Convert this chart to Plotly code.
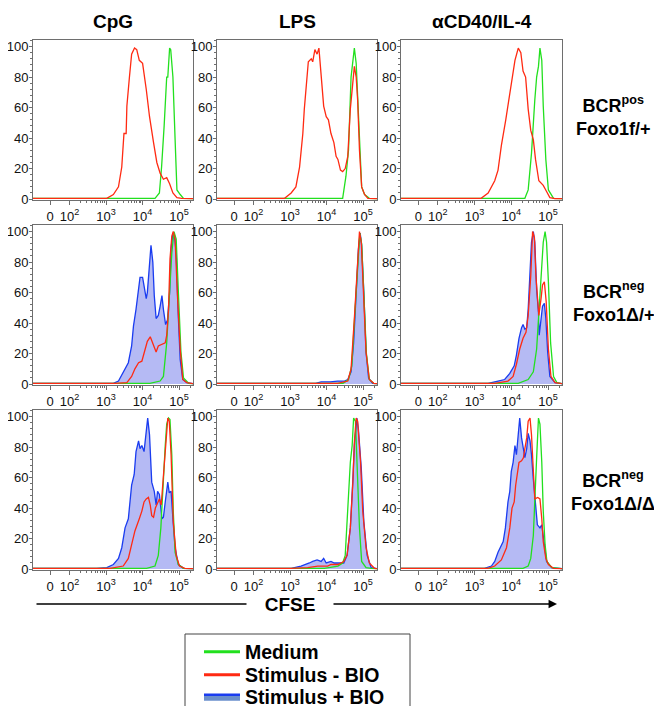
import plotly.graph_objects as go

# ---------------- DATA (x = log10 CFSE, y = % of max) ----------------
COLUMNS = ["CpG", "LPS", "αCD40/IL-4"]
ROWS = ["<b>BCR<sup>pos</sup></b><br><b>Foxo1f/+</b>",
        "<b>BCR<sup>neg</sup></b><br><b>Foxo1Δ/+</b>",
        "<b>BCR<sup>neg</sup></b><br><b>Foxo1Δ/Δ</b>"]
SERIES = ["Medium", "Stimulus - BIO", "Stimulus + BIO"]
X_TICK_LOG = [1.47, 2, 3, 4, 5]
X_TICK_TEXT = ["0", "10<sup>2</sup>", "10<sup>3</sup>", "10<sup>4</sup>", "10<sup>5</sup>"]
Y_TICKS = [0, 20, 40, 60, 80, 100]

# Row 1: BCRpos Foxo1f/+
CPG_POS_MED = [(1.0,0.5),(4.34,0.5),(4.46,4),(4.52,21),(4.59,48),(4.66,80),(4.69,80),(4.74,99),(4.77,98),(4.83,80),(4.89,39),(4.94,6),(5.03,3),(5.12,0.5),(5.38,0.3)]
CPG_POS_STIM = [(1.0,0.5),(3.02,0.5),(3.2,3),(3.34,8),(3.43,21),(3.49,43),(3.55,43),(3.57,61),(3.64,80),(3.70,95),(3.78,99),(3.84,98),(3.91,91),(4.0,89),(4.10,72),(4.19,54),(4.30,37),(4.39,24),(4.48,17),(4.57,13),(4.66,14),(4.74,10),(4.83,4),(4.94,1),(5.07,0.5),(5.38,0.3)]
LPS_POS_MED = [(1.0,0.5),(4.44,0.5),(4.53,15),(4.60,32),(4.67,80),(4.73,91),(4.76,99),(4.81,89),(4.85,65),(4.90,39),(4.96,8),(5.04,3),(5.17,0.5),(5.38,0.3)]
LPS_POS_STIM = [(1.0,0.5),(2.85,0.5),(3.03,4),(3.16,8),(3.26,21),(3.35,43),(3.39,59),(3.44,74),(3.50,90),(3.58,92),(3.62,90),(3.68,98),(3.74,95),(3.79,99),(3.85,80),(3.92,61),(3.99,54),(4.05,52),(4.12,43),(4.20,37),(4.26,28),(4.31,26),(4.38,19),(4.44,18),(4.51,20),(4.58,28),(4.65,59),(4.72,80),(4.76,87),(4.81,80),(4.85,65),(4.90,32),(4.96,8),(5.04,3),(5.13,0.5),(5.38,0.3)]
CD40_POS_MED = [(1.0,0.5),(4.37,0.5),(4.46,6),(4.55,30),(4.64,65),(4.69,80),(4.74,87),(4.78,99),(4.83,91),(4.87,61),(4.94,26),(5.01,6),(5.15,0.5),(5.38,0.3)]
CD40_POS_STIM = [(1.0,0.5),(3.18,0.5),(3.37,4),(3.55,12),(3.64,19),(3.73,35),(3.85,52),(3.91,61),(3.96,67),(4.0,76),(4.10,91),(4.19,99),(4.26,96),(4.32,84),(4.39,80),(4.46,59),(4.53,45),(4.60,39),(4.66,26),(4.75,12),(4.87,9),(4.96,5),(5.05,1),(5.19,0.3),(5.38,0.3)]

# Row 2: BCRneg Foxo1Δ/+
CPG_NEG1_MED = [(1.0,0.5),(4.2,0.5),(4.48,2),(4.57,5),(4.66,27),(4.74,60),(4.80,86),(4.86,100),(4.92,95),(4.98,60),(5.05,21),(5.12,4),(5.26,0.5),(5.38,0.3)]
CPG_NEG1_STIM = [(1.0,0.5),(3.25,0.5),(3.57,1),(3.70,5),(3.79,10),(3.89,14),(3.98,15),(4.07,23),(4.13,28),(4.21,31),(4.28,27),(4.37,21),(4.43,25),(4.53,26),(4.62,27),(4.66,32),(4.71,49),(4.75,82),(4.80,97),(4.84,100),(4.89,95),(4.95,60),(5.03,23),(5.10,3),(5.21,1),(5.38,0.3)]
CPG_NEG1_BIO = [(1.0,0.5),(3.2,0.5),(3.34,2),(3.47,8),(3.61,14),(3.70,25),(3.75,38),(3.82,49),(3.89,62),(3.93,70),(4.0,70),(4.04,65),(4.10,56),(4.13,60),(4.19,82),(4.23,91),(4.28,80),(4.32,58),(4.37,43),(4.43,45),(4.48,51),(4.53,58),(4.57,49),(4.63,39),(4.68,42),(4.74,60),(4.78,89),(4.83,99),(4.87,98),(4.92,86),(4.98,43),(5.03,16),(5.10,3),(5.21,1),(5.38,0.3)]
LPS_NEG1_MED = [(1.0,0.5),(4.45,0.5),(4.60,3),(4.69,12),(4.77,45),(4.85,80),(4.91,99),(4.96,92),(5.02,58),(5.09,20),(5.17,3),(5.29,0.5),(5.38,0.3)]
LPS_NEG1_STIM = [(1.0,0.5),(4.3,0.5),(4.58,2),(4.67,10),(4.76,43),(4.84,75),(4.90,100),(4.95,93),(5.01,58),(5.08,21),(5.17,3),(5.29,0.5),(5.38,0.3)]
LPS_NEG1_BIO = [(1.0,0.5),(3.7,0.5),(3.85,1.5),(4.1,1.5),(4.3,2),(4.49,2),(4.58,3),(4.67,8),(4.74,27),(4.81,60),(4.87,88),(4.92,99),(4.96,91),(5.02,60),(5.08,21),(5.15,4),(5.26,0.5),(5.38,0.3)]
CD40_NEG1_MED = [(1.0,0.5),(4.19,0.5),(4.46,3),(4.60,8),(4.69,23),(4.76,49),(4.83,78),(4.87,93),(4.92,100),(4.96,93),(5.01,67),(5.07,27),(5.15,5),(5.24,1),(5.38,0.3)]
CD40_NEG1_STIM = [(1.0,0.5),(3.55,0.5),(3.91,2),(4.05,5),(4.14,13),(4.23,23),(4.32,30),(4.40,34),(4.46,45),(4.53,71),(4.58,100),(4.63,96),(4.67,71),(4.72,51),(4.75,45),(4.81,56),(4.85,65),(4.90,67),(4.95,54),(5.01,23),(5.08,5),(5.19,1),(5.38,0.3)]
CD40_NEG1_BIO = [(1.0,0.5),(3.37,0.5),(3.64,2),(3.82,3),(3.96,7),(4.08,12),(4.14,19),(4.21,30),(4.28,37),(4.32,39),(4.37,36),(4.42,37),(4.46,49),(4.51,71),(4.55,93),(4.60,100),(4.64,93),(4.69,62),(4.74,47),(4.76,32),(4.81,43),(4.85,51),(4.90,53),(4.94,43),(4.99,21),(5.05,5),(5.19,1),(5.38,0.3)]

# Row 3: BCRneg Foxo1Δ/Δ
CPG_NEG2_MED = [(1.0,0.5),(4.11,0.5),(4.34,2),(4.43,9),(4.50,27),(4.57,64),(4.62,81),(4.66,95),(4.71,99),(4.75,98),(4.80,75),(4.84,38),(4.89,11),(4.98,3),(5.12,0.5),(5.38,0.3)]
CPG_NEG2_STIM = [(1.0,0.5),(3.11,0.5),(3.47,2),(3.61,7),(3.70,16),(3.79,25),(3.91,33),(3.98,38),(4.04,44),(4.10,46),(4.16,47),(4.21,42),(4.25,35),(4.30,34),(4.35,40),(4.41,44),(4.46,46),(4.51,42),(4.55,55),(4.60,70),(4.64,84),(4.69,99),(4.73,97),(4.78,75),(4.84,31),(4.92,9),(5.01,2),(5.16,0.5),(5.38,0.3)]
CPG_NEG2_BIO = [(1.0,0.5),(2.74,0.5),(3.02,1),(3.2,3),(3.34,7),(3.43,14),(3.52,27),(3.61,33),(3.70,55),(3.77,62),(3.82,77),(3.89,84),(3.93,79),(3.98,81),(4.04,77),(4.10,88),(4.14,99),(4.19,88),(4.25,57),(4.32,51),(4.37,42),(4.41,51),(4.46,49),(4.53,33),(4.57,34),(4.62,44),(4.69,57),(4.73,50),(4.78,51),(4.83,33),(4.89,14),(4.98,3),(5.12,0.5),(5.38,0.3)]
LPS_NEG2_MED = [(1.0,0.5),(3.94,0.5),(4.31,2),(4.44,4),(4.51,9),(4.58,38),(4.65,70),(4.70,81),(4.74,99),(4.79,97),(4.85,59),(4.90,27),(4.96,5),(5.08,1),(5.22,0.5),(5.38,0.3)]
LPS_NEG2_STIM = [(1.0,0.5),(3.03,0.5),(3.48,1),(3.76,2),(4.03,2),(4.12,3),(4.31,3),(4.47,5),(4.56,9),(4.65,27),(4.72,57),(4.76,83),(4.81,99),(4.85,97),(4.93,70),(4.99,38),(5.08,14),(5.17,4),(5.31,0.5),(5.38,0.3)]
LPS_NEG2_BIO = [(1.0,0.5),(3.03,0.5),(3.30,2),(3.44,3),(3.53,4),(3.62,5),(3.74,6),(3.85,5),(3.92,7),(3.99,4),(4.12,5),(4.21,4),(4.35,4),(4.47,4),(4.56,9),(4.65,27),(4.72,59),(4.76,81),(4.83,99),(4.87,92),(4.95,66),(5.02,31),(5.11,9),(5.22,1),(5.36,0.5)]
CD40_NEG2_MED = [(1.0,0.5),(4.32,0.5),(4.46,2),(4.53,7),(4.60,22),(4.64,49),(4.69,73),(4.74,99),(4.78,95),(4.83,70),(4.87,38),(4.92,16),(4.97,5),(5.10,1),(5.38,0.3)]
CD40_NEG2_STIM = [(1.0,0.5),(3.37,0.5),(3.55,2),(3.73,6),(3.87,14),(3.96,27),(4.02,40),(4.08,44),(4.12,55),(4.17,64),(4.21,70),(4.28,71),(4.33,73),(4.37,79),(4.42,86),(4.46,97),(4.51,99),(4.55,88),(4.60,66),(4.64,46),(4.72,47),(4.78,46),(4.83,33),(4.87,18),(4.94,7),(5.01,3),(5.15,0.5),(5.38,0.3)]
CD40_NEG2_BIO = [(1.0,0.5),(3.27,0.5),(3.46,2),(3.55,5),(3.64,11),(3.71,14),(3.78,18),(3.84,27),(3.91,44),(3.96,51),(4.0,64),(4.05,70),(4.10,81),(4.14,75),(4.19,88),(4.23,99),(4.28,86),(4.32,79),(4.37,73),(4.42,79),(4.46,89),(4.51,84),(4.55,75),(4.60,59),(4.64,46),(4.71,29),(4.78,27),(4.83,29),(4.89,18),(4.96,5),(5.10,1),(5.38,0.3)]

PANELS = [
    [(CPG_POS_MED, CPG_POS_STIM, None), (LPS_POS_MED, LPS_POS_STIM, None), (CD40_POS_MED, CD40_POS_STIM, None)],
    [(CPG_NEG1_MED, CPG_NEG1_STIM, CPG_NEG1_BIO), (LPS_NEG1_MED, LPS_NEG1_STIM, LPS_NEG1_BIO), (CD40_NEG1_MED, CD40_NEG1_STIM, CD40_NEG1_BIO)],
    [(CPG_NEG2_MED, CPG_NEG2_STIM, CPG_NEG2_BIO), (LPS_NEG2_MED, LPS_NEG2_STIM, LPS_NEG2_BIO), (CD40_NEG2_MED, CD40_NEG2_STIM, CD40_NEG2_BIO)],
]

# ---------------- STYLE ----------------
PAGE_OFF = 8            # browser body margin
W, H = 662 - PAGE_OFF, 714 - 2 * PAGE_OFF
FONT = "Liberation Sans, Arial, sans-serif"
GREEN = "#22e01e"
RED = "#ff2a12"
BLUE = "#1a3cf0"
FILL = "rgba(150,156,240,0.7)"
LEG_FILL = "#6a8fcc"
FRAME = "#6e6e6e"
COL_PX = [(33, 193), (217, 377), (401, 562)]
ROW_PX = [(40, 200), (225, 385), (410, 570)]

def px_x(v): return (v - PAGE_OFF) / W
def px_y(v): return 1 - (v - PAGE_OFF) / H

fig = go.Figure()
layout = {}
minor_vals = [k * 10 ** d for d in (2, 3, 4) for k in range(2, 10)] + [2e5]

for r in range(3):
    for c in range(3):
        i = r * 3 + c + 1
        xa = "x" if i == 1 else f"x{i}"
        ya = "y" if i == 1 else f"y{i}"
        med, stim, bio = PANELS[r][c]
        if bio is not None:
            fig.add_trace(go.Scatter(
                x=[10 ** p[0] for p in bio], y=[p[1] for p in bio],
                mode="lines", line=dict(color=BLUE, width=1.3), fill="tozeroy",
                fillcolor=FILL, xaxis=xa, yaxis=ya, showlegend=False, hoverinfo="skip"))
        fig.add_trace(go.Scatter(
            x=[10 ** p[0] for p in med], y=[p[1] for p in med],
            mode="lines", line=dict(color=GREEN, width=1.3),
            xaxis=xa, yaxis=ya, showlegend=False, hoverinfo="skip"))
        fig.add_trace(go.Scatter(
            x=[10 ** p[0] for p in stim], y=[p[1] for p in stim],
            mode="lines", line=dict(color=RED, width=1.3),
            xaxis=xa, yaxis=ya, showlegend=False, hoverinfo="skip"))

        x0, x1 = COL_PX[c]
        y0, y1 = ROW_PX[r]
        common = dict(showline=True, mirror=True, linecolor=FRAME, linewidth=1,
                      ticks="outside", tickcolor=FRAME, showgrid=False,
                      zeroline=False, tickfont=dict(size=13, color="#111", family=FONT))
        layout["xaxis" if i == 1 else f"xaxis{i}"] = dict(
            domain=[px_x(x0), px_x(x1)], anchor=ya, type="log", range=[1.0, 5.38],
            tickmode="array", tickvals=[10 ** t for t in X_TICK_LOG], ticktext=X_TICK_TEXT,
            ticklen=4,
            minor=dict(tickmode="array", tickvals=minor_vals, ticks="outside", ticklen=2, tickcolor=FRAME),
            **common)
        layout["yaxis" if i == 1 else f"yaxis{i}"] = dict(
            domain=[px_y(y1), px_y(y0)], anchor=xa, range=[-0.6, 104.3],
            tickmode="array", tickvals=Y_TICKS, ticklen=3, ticklabelstandoff=-2,
            minor=dict(dtick=4, ticks="outside", ticklen=2, tickcolor=FRAME),
            **common)

# legend entries (one legend per entry so that the spacing can follow the reference)
fig.add_trace(go.Scatter(x=[None], y=[None], mode="lines", name="<b>" + SERIES[0] + "</b>",
                         line=dict(color=GREEN, width=3), legend="legend"))
fig.add_trace(go.Scatter(x=[None], y=[None], mode="lines", name="<b>" + SERIES[1] + "</b>",
                         line=dict(color=RED, width=3), legend="legend2"))
fig.add_trace(go.Scatter(x=[None], y=[None], mode="lines", name="<b>" + SERIES[2] + "</b>",
                         fill="toself", fillcolor=LEG_FILL, line=dict(color=BLUE, width=2.5),
                         legend="legend3"))

def legend_at(yc):
    return dict(x=px_x(199), y=px_y(yc), xanchor="left", yanchor="middle",
                font=dict(size=19.5, family=FONT, color="#000"),
                bgcolor="rgba(0,0,0,0)", borderwidth=0, itemwidth=36)

annotations = []
for c, title in enumerate(COLUMNS):
    annotations.append(dict(text="<b>" + title + "</b>", x=px_x(sum(COL_PX[c]) / 2), y=px_y(22),
                            xref="paper", yref="paper", showarrow=False,
                            xanchor="center", yanchor="middle",
                            font=dict(size=19, color="#000", family=FONT)))
row_centers = [116, 302, 491]
for r, lab in enumerate(ROWS):
    annotations.append(dict(text=lab, x=px_x(613), y=px_y(row_centers[r]), xref="paper", yref="paper",
                            showarrow=False, align="center", xanchor="center", yanchor="middle",
                            font=dict(size=18, color="#000", family=FONT)))
# CFSE arrow
annotations.append(dict(text="", x=px_x(557), y=px_y(604), xref="paper", yref="paper",
                        showarrow=True, ax=-522, ay=0, arrowhead=2, arrowsize=1.3,
                        arrowwidth=1.3, arrowcolor="#000", standoff=0))
annotations.append(dict(text="<b>CFSE</b>", x=px_x(290), y=px_y(604), xref="paper", yref="paper",
                        showarrow=False, bgcolor="white", width=84, xanchor="center", yanchor="middle",
                        font=dict(size=19, color="#000", family=FONT)))

shapes = [dict(type="rect", xref="paper", yref="paper", x0=px_x(185), x1=px_x(410),
               y0=px_y(740), y1=px_y(634), line=dict(color="#444", width=1), fillcolor="rgba(0,0,0,0)")]

fig.update_layout(
    width=W, height=H, margin=dict(l=0, r=0, t=0, b=0, autoexpand=False),
    paper_bgcolor="white", plot_bgcolor="white",
    font=dict(family=FONT, color="#000"),
    showlegend=True,
    legend=legend_at(652), legend2=legend_at(675), legend3=legend_at(697),
    annotations=annotations, shapes=shapes,
    **layout)

fig.write_html("out.html")
